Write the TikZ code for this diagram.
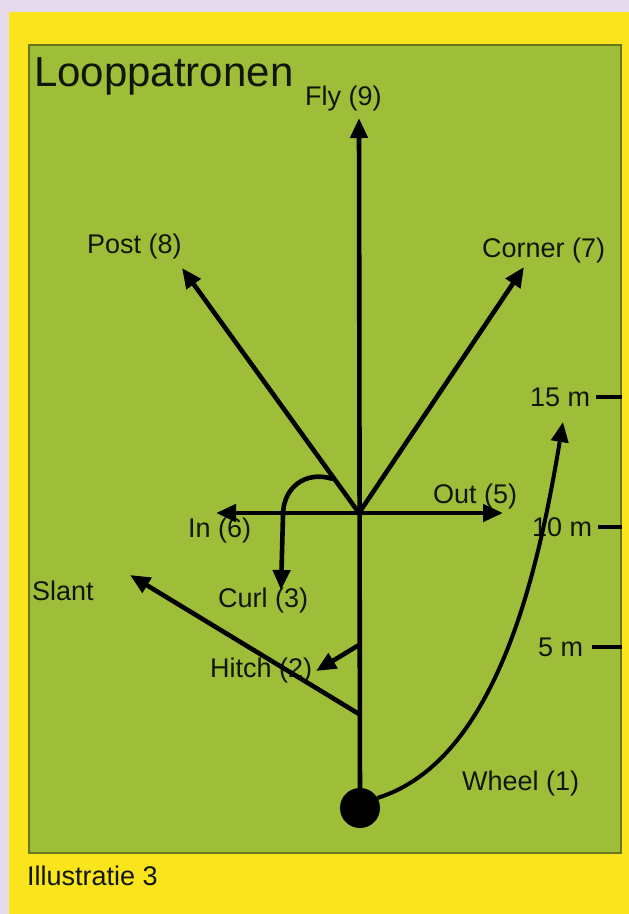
\documentclass[tikz,border=0pt]{standalone}
\usepackage{fontspec}
\setmainfont{Liberation Sans}
\usetikzlibrary{arrows.meta}
\definecolor{lav}{RGB}{228,218,236}
\definecolor{yel}{RGB}{250,228,28}
\definecolor{grn}{RGB}{158,190,58}
\definecolor{olive}{RGB}{105,118,28}
\definecolor{ink}{RGB}{18,22,8}
\begin{document}
\begin{tikzpicture}[x=1pt,y=-1pt,
  lbl/.style={font=\fontsize{27}{30}\selectfont, inner sep=0pt, anchor=base west, text=ink},
  arr/.style={line width=4.6pt, draw=black, -{Triangle[length=20pt,width=17pt]}},
  ln/.style={line width=4.6pt, draw=black}]
\useasboundingbox (0,0) rectangle (629,914);
\fill[lav] (0,0) rectangle (629,914);
\fill[yel] (9,12) rectangle (629,914);
\filldraw[fill=grn, draw=olive, line width=1.2pt] (29,45) rectangle (621,853);

% labels
\node[lbl, font=\fontsize{42}{46}\selectfont] (title) at (34,86) {Looppatronen};
\node[lbl] (fly) at (305,105) {Fly (9)};
\node[lbl] (post) at (87,253) {Post (8)};
\node[lbl] (corner) at (482,257) {Corner (7)};
\node[lbl] (out) at (433,503) {Out (5)};
\node[lbl] (in) at (188,537) {In (6)};
\node[lbl] (curl) at (218,607) {Curl (3)};
\node[lbl] (hitch) at (210,677) {Hitch (2)};
\node[lbl] (slant) at (32,600) {Slant};
\node[lbl] (wheel) at (462,790) {Wheel (1)};
\node[lbl] (m15) at (530,406) {15 m};
\node[lbl] (m10) at (532,536) {10 m};
\node[lbl] (m5) at (538,656) {5 m};
\node[lbl] (ill) at (27,885) {Illustratie 3};

% coordinates
\coordinate (O) at (359,513);
\coordinate (top) at (359,118);
\coordinate (postT) at (182,268);
\coordinate (cornerT) at (524,267);
\coordinate (outT) at (503,513);
\coordinate (inT) at (216,513);
\coordinate (slantS) at (359,714);
\coordinate (slantT) at (130,575);
\coordinate (hitchS) at (359,645);
\coordinate (hitchT) at (316,671);
\coordinate (curlS) at (333,479);
\coordinate (curlT) at (281,590);
\coordinate (wheelT) at (563,422);
\coordinate (e15) at (622,397);
\coordinate (e10) at (622,527);
\coordinate (e5) at (622,647);
\node[circle, fill=black, minimum size=40pt, inner sep=0pt] (ball) at (360,808) {};

% connectors
\draw[arr] (ball.center) -- (top);
\draw[arr] (O) -- (postT);
\draw[arr] (O) -- (cornerT);
\draw[arr] (O) -- (outT);
\draw[arr] (O) -- (inT);
\draw[arr] (slantS) -- (slantT);
\draw[arr] (hitchS) -- (hitchT);
\draw[arr] (curlS) .. controls (305,470) and (283,488) .. (283,515) -- (curlT);
\draw[arr, line width=4pt] (ball.30) .. controls (500,760) and (540,560) .. (wheelT);
\draw[ln] ([xshift=6pt]m15.base east |- e15) -- (e15);
\draw[ln] ([xshift=6pt]m10.base east |- e10) -- (e10);
\draw[ln] ([xshift=9pt]m5.base east |- e5) -- (e5);
\end{tikzpicture}
\end{document}
